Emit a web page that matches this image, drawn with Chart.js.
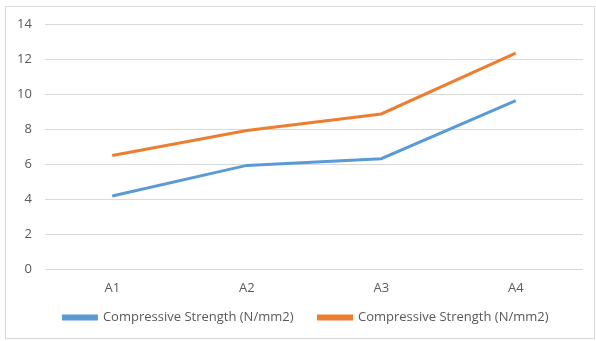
<!DOCTYPE html>
<html>
<head>
<meta charset="utf-8">
<script src="https://cdn.jsdelivr.net/npm/chart.js@4.4.1/dist/chart.umd.min.js"></script>
<style>
    html, body { margin: 0; padding: 0; background: #fff; }
    #wrap { position: relative; width: 596px; height: 341px; }
</style>
</head>
<body>
<div id="wrap"><canvas id="chart"></canvas></div>
<script>
// values
const categories = ["A1", "A2", "A3", "A4"];
const seriesNames = ["Compressive Strength (N/mm2)", "Compressive Strength (N/mm2)"];
const blueValues = [4.17, 5.92, 6.3, 9.62];
const orangeValues = [6.49, 7.91, 8.86, 12.33];
const yTicks = [0, 2, 4, 6, 8, 10, 12, 14];

const textColor = '#595959';
const gridColor = '#D9D9D9';
const labelFont = { family: 'Open Sans', size: 13 };

// outer frame like the office chart area
const framePlugin = {
    id: 'frame',
    beforeDraw(chart) {
        const ctx = chart.ctx;
        ctx.save();
        ctx.fillStyle = '#fff';
        ctx.fillRect(0, 0, chart.width, chart.height);
        ctx.strokeStyle = gridColor;
        ctx.lineWidth = 1;
        ctx.strokeRect(5.5, 6.5, 589, 332);
        ctx.restore();
    }
};

function createLineChart(id) {
    const chart = new Chart(id, {
        type: 'line',
        data: {
            labels: categories,
            datasets: [{
                label: seriesNames[0],
                data: blueValues,
                borderColor: '#5B9BD5',
                backgroundColor: '#5B9BD5',
                borderWidth: 3,
                pointRadius: 0,
                tension: 0
            }, {
                label: seriesNames[1],
                data: orangeValues,
                borderColor: '#ED7D31',
                backgroundColor: '#ED7D31',
                borderWidth: 3,
                pointRadius: 0,
                tension: 0
            }]
        },
        options: {
            responsive: true,
            maintainAspectRatio: false,
            animation: false,
            layout: {
                padding: { top: 24, right: 13, bottom: 7, left: 29 }
            },
            plugins: {
                legend: {
                    position: 'bottom',
                    labels: {
                        color: textColor,
                        font: labelFont,
                        boxWidth: 33,
                        boxHeight: 3,
                        padding: 25
                    }
                },
                tooltip: { enabled: false }
            },
            scales: {
                x: {
                    offset: true,
                    grid: { display: false, drawTicks: false },
                    border: { display: false },
                    ticks: {
                        color: textColor,
                        font: labelFont,
                        // mirrored so the labels may sit inside the legend band
                        mirror: true,
                        padding: -27
                    },
                    afterFit: scale => { scale.height = 17; }
                },
                y: {
                    min: 0,
                    max: 14,
                    afterBuildTicks: scale => {
                        scale.ticks = yTicks.map(v => ({ value: v }));
                    },
                    grid: { color: gridColor, drawTicks: false },
                    border: { display: false },
                    ticks: {
                        color: textColor,
                        font: labelFont,
                        // mirrored (no clipping), pulled back left of the plot
                        mirror: true,
                        crossAlign: 'far',
                        padding: -28
                    },
                    afterFit: scale => { scale.width = 16; }
                }
            }
        },
        plugins: [framePlugin]
    });

    return chart;
}

createLineChart('chart');
</script>
</body>
</html>
